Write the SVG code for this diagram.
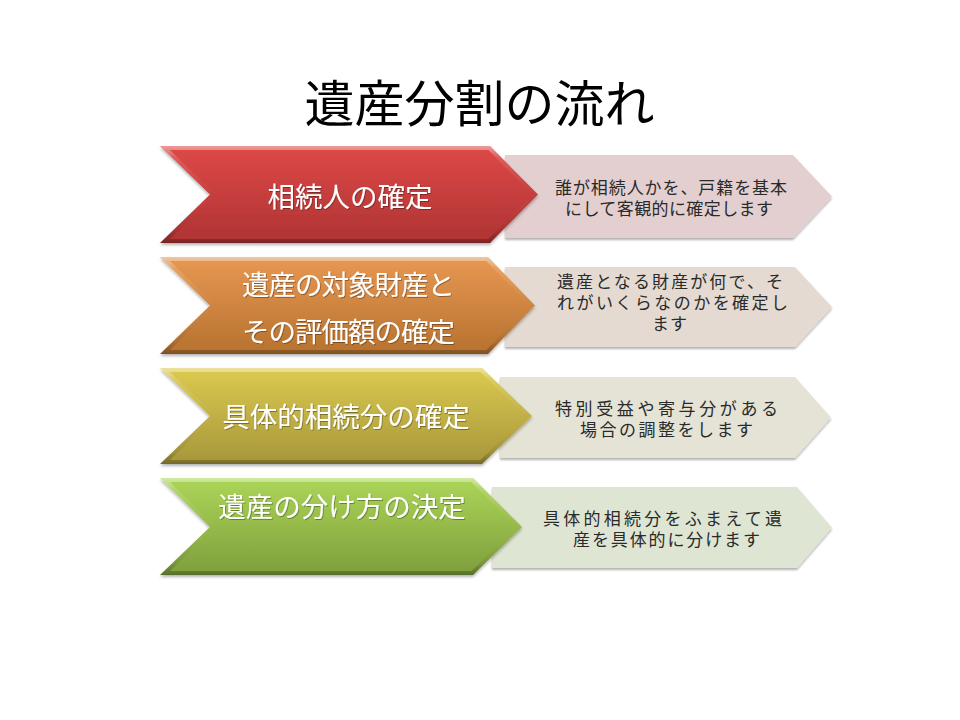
<svg xmlns="http://www.w3.org/2000/svg" xmlns:xlink="http://www.w3.org/1999/xlink" width="960" height="720" viewBox="0 0 960 720">
<style>
.title{font-family:"Noto Sans CJK JP","Noto Sans",sans-serif;font-size:50px;fill:#000;text-anchor:middle;dominant-baseline:central}
.ct{font-family:"Noto Sans CJK JP","Noto Sans",sans-serif;font-size:27.5px;fill:#fff;dominant-baseline:central;filter:url(#tsh)}
.pt{font-family:"Noto Sans CJK JP","Noto Sans",sans-serif;font-size:17px;fill:#2a2a2a;dominant-baseline:central}
.bev{fill:none;stroke:url(#bev);stroke-width:8}
</style>
<defs>
<filter id="sh" x="-5%" y="-10%" width="110%" height="130%">
<feDropShadow dx="0" dy="2" stdDeviation="1.6" flood-color="#000" flood-opacity="0.3"/>
</filter>
<filter id="psh" x="-5%" y="-10%" width="110%" height="130%">
<feDropShadow dx="0" dy="2" stdDeviation="1.2" flood-color="#000" flood-opacity="0.3"/>
</filter>
<filter id="tsh" x="-5%" y="-20%" width="110%" height="150%">
<feDropShadow dx="0.8" dy="1" stdDeviation="0.7" flood-color="#000" flood-opacity="0.35"/>
</filter>
<linearGradient id="bev" x1="0" y1="0" x2="0" y2="1">
<stop offset="0" stop-color="#fff" stop-opacity="0.45"/>
<stop offset="0.12" stop-color="#fff" stop-opacity="0.12"/>
<stop offset="0.5" stop-color="#fff" stop-opacity="0"/>
<stop offset="0.88" stop-color="#000" stop-opacity="0.08"/>
<stop offset="1" stop-color="#000" stop-opacity="0.3"/>
</linearGradient>
<linearGradient id="g1" x1="0" y1="0" x2="0" y2="1"><stop offset="0" stop-color="#de4947"/><stop offset="1" stop-color="#ae3333"/></linearGradient>
<linearGradient id="g2" x1="0" y1="0" x2="0" y2="1"><stop offset="0" stop-color="#e89852"/><stop offset="1" stop-color="#b6722f"/></linearGradient>
<linearGradient id="g3" x1="0" y1="0" x2="0" y2="1"><stop offset="0" stop-color="#dcca50"/><stop offset="1" stop-color="#a6963a"/></linearGradient>
<linearGradient id="g4" x1="0" y1="0" x2="0" y2="1"><stop offset="0" stop-color="#acd658"/><stop offset="1" stop-color="#7e9e3c"/></linearGradient>
<polygon id="c1" points="160,146 490,146 538,194.5 490,243 160,243 210,194.5"/>
<polygon id="c2" points="160,257 488,257 535,305.5 488,354 160,354 210,305.5"/>
<polygon id="c3" points="160,368 482,368 532,416 482,464 160,464 210,416"/>
<polygon id="c4" points="160,478 473,478 522,527 473,575 160,575 210,527"/>
<clipPath id="cc1"><use xlink:href="#c1"/></clipPath>
<clipPath id="cc2"><use xlink:href="#c2"/></clipPath>
<clipPath id="cc3"><use xlink:href="#c3"/></clipPath>
<clipPath id="cc4"><use xlink:href="#c4"/></clipPath>
</defs>
<rect width="960" height="720" fill="#fff"/>
<text id="title" class="title" x="479.5" y="100">遺産分割の流れ</text>

<g id="pane1">
<polygon points="505,155 793,155 832,196.5 793,238 505,238" fill="#e3cfcf" filter="url(#psh)"/>
<text class="pt" x="555" y="186" textLength="232" lengthAdjust="spacing">誰が相続人かを、戸籍を基本</text>
<text class="pt" x="565" y="207" textLength="208" lengthAdjust="spacing">にして客観的に確定します</text>
</g>
<g id="pane2">
<polygon points="505,267 795,267 832,307 795,347 505,347" fill="#e4dad1" filter="url(#psh)"/>
<text class="pt" x="557" y="280" textLength="226" lengthAdjust="spacing">遺産となる財産が何で、そ</text>
<text class="pt" x="557" y="301" textLength="231" lengthAdjust="spacing">れがいくらなのかを確定し</text>
<text class="pt" x="652" y="322" textLength="35" lengthAdjust="spacing">ます</text>
</g>
<g id="pane3">
<polygon points="500,377 795,377 831,417.5 795,458 500,458" fill="#e4e3d5" filter="url(#psh)"/>
<text class="pt" x="555" y="407" textLength="223" lengthAdjust="spacing">特別受益や寄与分がある</text>
<text class="pt" x="580" y="428" textLength="173" lengthAdjust="spacing">場合の調整をします</text>
</g>
<g id="pane4">
<polygon points="492,487 797,487 832,527.5 797,568 492,568" fill="#dfe5d3" filter="url(#psh)"/>
<text class="pt" x="543" y="517" textLength="239" lengthAdjust="spacing">具体的相続分をふまえて遺</text>
<text class="pt" x="573" y="538" textLength="187" lengthAdjust="spacing">産を具体的に分けます</text>
</g>

<g id="step1">
<use xlink:href="#c1" fill="url(#g1)" filter="url(#sh)"/>
<use xlink:href="#c1" class="bev" clip-path="url(#cc1)"/>
<text class="ct" x="350" y="195" text-anchor="middle">相続人の確定</text>
</g>
<g id="step2">
<use xlink:href="#c2" fill="url(#g2)" filter="url(#sh)"/>
<use xlink:href="#c2" class="bev" clip-path="url(#cc2)"/>
<text class="ct" x="242" y="283" textLength="213" lengthAdjust="spacing">遺産の対象財産と</text>
<text class="ct" x="242" y="330" textLength="213" lengthAdjust="spacing">その評価額の確定</text>
</g>
<g id="step3">
<use xlink:href="#c3" fill="url(#g3)" filter="url(#sh)"/>
<use xlink:href="#c3" class="bev" clip-path="url(#cc3)"/>
<text class="ct" x="346" y="415" text-anchor="middle">具体的相続分の確定</text>
</g>
<g id="step4">
<use xlink:href="#c4" fill="url(#g4)" filter="url(#sh)"/>
<use xlink:href="#c4" class="bev" clip-path="url(#cc4)"/>
<text class="ct" x="342" y="505" text-anchor="middle">遺産の分け方の決定</text>
</g>
<g id="connectors"/>
</svg>
